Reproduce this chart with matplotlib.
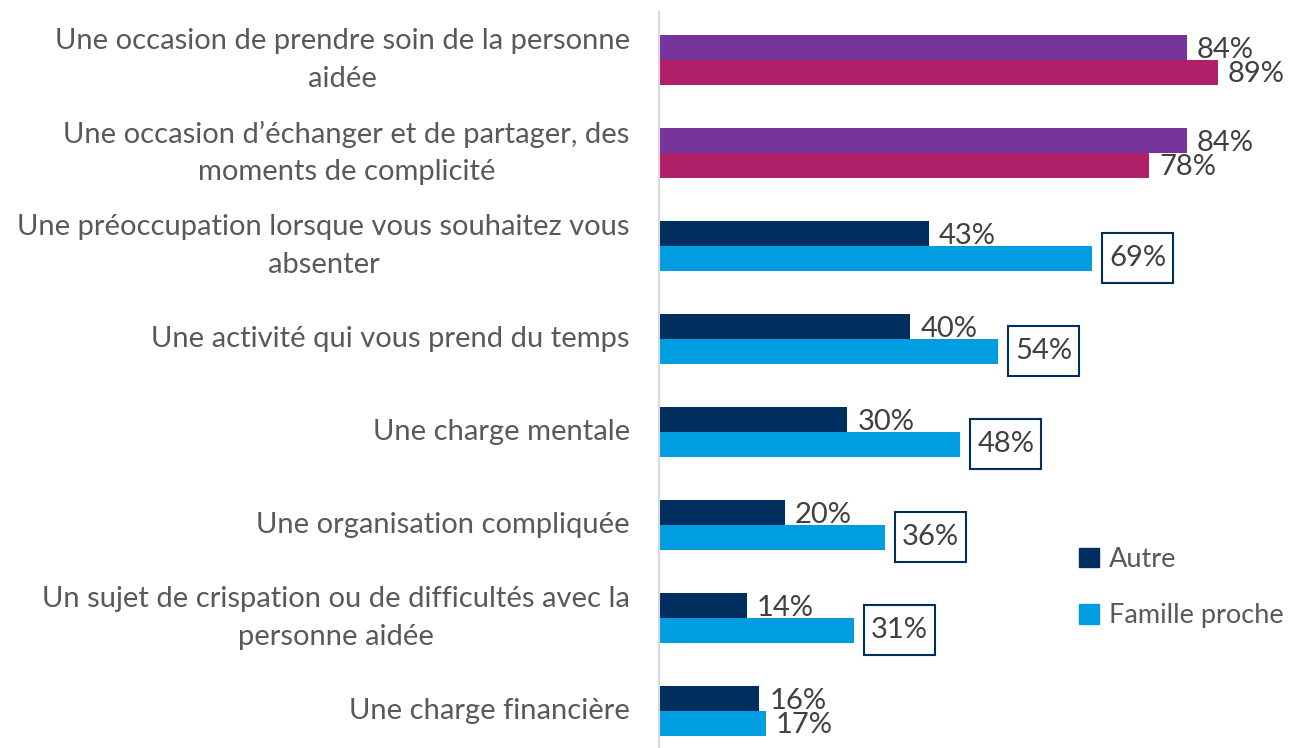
import numpy as np
import matplotlib
matplotlib.use("Agg")
from matplotlib import pyplot as plt
from matplotlib.patches import Patch, Rectangle

plt.rcParams['font.family'] = ['Lato', 'DejaVu Sans']

categories = [
    "Une occasion de prendre soin de la personne\naidée",
    "Une occasion d\u2019échanger et de partager, des\nmoments de complicité",
    "Une préoccupation lorsque vous souhaitez vous\nabsenter",
    "Une activité qui vous prend du temps",
    "Une charge mentale",
    "Une organisation compliquée",
    "Un sujet de crispation ou de difficultés avec la\npersonne aidée",
    "Une charge financière",
]
autre = [84, 84, 43, 40, 30, 20, 14, 16]
famille = [89, 78, 69, 54, 48, 36, 31, 17]
# rows where the "Famille proche" value is framed
framed = [False, False, True, True, True, True, True, False]
# the first two rows use a different palette
highlight = [True, True, False, False, False, False, False, False]

navy = "#002F5F"
sky = "#009EE0"
purple = "#77359B"
magenta = "#AF2069"
txt = "#404040"

fig = plt.figure(figsize=(13.01, 7.48), dpi=100)
ax = fig.add_axes([659 / 1301, 0.0, (1287 - 659) / 1301, (748 - 12) / 748])

y = np.arange(len(categories))
h = 0.265
c1 = [purple if hl else navy for hl in highlight]
c2 = [magenta if hl else sky for hl in highlight]
ax.barh(y - h / 2, autre, height=h, color=c1)
ax.barh(y + h / 2, famille, height=h, color=c2)

fs = 21
boxed = []
for i in range(len(categories)):
    ax.text(autre[i] + 1.6, y[i] - h / 2 + 0.02, f"{autre[i]}%", va="center",
            ha="left", fontsize=fs, color=txt)
    if framed[i]:
        t = ax.text(famille[i] + 2.7, y[i] + h / 2, f"{famille[i]}%", va="center",
                    ha="left", fontsize=fs, color=txt, zorder=4)
        boxed.append(t)
    else:
        ax.text(famille[i] + 1.6, y[i] + h / 2 + 0.02, f"{famille[i]}%", va="center",
                ha="left", fontsize=fs, color=txt)

ax.set_xlim(0, 100)
ax.set_ylim(7.398, -0.516)
ax.set_yticks(y)
ax.set_yticklabels(categories, fontsize=fs, color="#595959",
                   multialignment="center", linespacing=1.55, va="center")
ax.tick_params(axis="y", length=0, pad=21)
ax.set_xticks([])
for s in ["top", "right", "bottom"]:
    ax.spines[s].set_visible(False)
ax.spines["left"].set_color("#D9D9D9")
ax.spines["left"].set_linewidth(1.5)

handles = [Patch(color=navy, label="Autre"), Patch(color=sky, label="Famille proche")]
ax.legend(handles=handles, loc="center left", bbox_to_anchor=(0.63, 0.218),
          frameon=False, fontsize=19.5, labelcolor="#595959",
          handlelength=0.75, handleheight=0.75, handletextpad=0.35, labelspacing=1.15)

# frame around the highlighted values, sized from the rendered text
fig.canvas.draw()
for t in boxed:
    bb = t.get_window_extent()
    cy = (bb.y0 + bb.y1) / 2
    fig.patches.append(Rectangle((bb.x0 - 7, cy - 25), bb.width + 14, 50,
                                 transform=None, fc="none", ec=navy, lw=1.5,
                                 figure=fig))

plt.savefig("out.png", dpi=100)
